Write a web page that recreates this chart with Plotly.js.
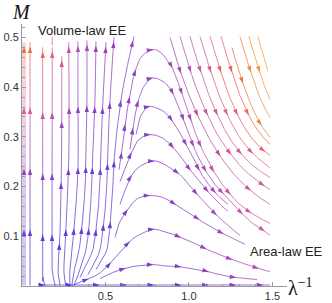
<!DOCTYPE html>
<html>
<head>
<meta charset="utf-8">
<script src="https://cdn.plot.ly/plotly-3.0.1.min.js"></script>
<style>
html,body{margin:0;padding:0;background:#ffffff;}
#chart{width:332px;height:303px;}
</style>
</head>
<body>
<div id="chart"></div>
<script>
// ---------- ticks ----------
const xTickVals = [0.5, 1.0, 1.5];
const xTickText = ['0.5', '1.0', '1.5'];
const xMinorVals = [0.1,0.2,0.3,0.4,0.6,0.7,0.8,0.9,1.1,1.2,1.3,1.4];
const yTickVals = [0.1, 0.2, 0.3, 0.4, 0.5];
const yTickText = ['0.1', '0.2', '0.3', '0.4', '0.5'];
const yMinorVals = [0.02,0.04,0.06,0.08,0.12,0.14,0.16,0.18,0.22,0.24,0.26,0.28,0.32,0.34,0.36,0.38,0.42,0.44,0.46,0.48,0.52];

// ---------- streamlines (flow direction order) ----------
// band along the M axis
const bandLineX = [0.012, 0.012];
const bandLineY = [0.001, 0.490];
const bandLevels = [0.02, 0.84];

// upward lines (bottom -> top)
const upLinesX = [
  [0.048, 0.048],
  [0.138, 0.126, 0.124, 0.124],
  [0.198, 0.183, 0.180, 0.181],
  [0.181, 0.181],
  [0.228, 0.216, 0.228, 0.237, 0.238],
  [0.263, 0.251, 0.263, 0.281, 0.280],
  [0.287, 0.287, 0.311, 0.335, 0.335, 0.335],
  [0.299, 0.311, 0.347, 0.377, 0.383, 0.389, 0.389],
  [0.311, 0.347, 0.389, 0.413, 0.425, 0.437, 0.443],
  [0.347, 0.395, 0.431, 0.461, 0.473, 0.485, 0.503],
  [0.395, 0.443, 0.473, 0.503, 0.515, 0.527, 0.551],
  [0.443, 0.485, 0.515, 0.539, 0.557, 0.593, 0.629, 0.671]
];
const upLinesY = [
  [0.001, 0.490],
  [0.001, 0.017, 0.053, 0.480],
  [0.001, 0.029, 0.073, 0.480],
  [0.484, 0.502],
  [0.001, 0.033, 0.114, 0.275, 0.462],
  [0.001, 0.033, 0.114, 0.275, 0.490],
  [0.001, 0.033, 0.114, 0.234, 0.375, 0.492],
  [0.001, 0.029, 0.084, 0.194, 0.275, 0.375, 0.494],
  [0.001, 0.033, 0.084, 0.174, 0.275, 0.375, 0.492],
  [0.017, 0.049, 0.084, 0.174, 0.275, 0.375, 0.490],
  [0.023, 0.053, 0.084, 0.174, 0.275, 0.375, 0.500],
  [0.033, 0.057, 0.084, 0.174, 0.275, 0.375, 0.440, 0.502]
];
const upLevels = [
  [0.02, 0.84], [0.03, 0.77], [0.04, 0.71], [0.82, 0.86], [0.06, 0.63],
  [0.08, 0.58], [0.10, 0.53], [0.12, 0.49], [0.14, 0.46], [0.16, 0.44],
  [0.18, 0.43], [0.20, 0.43]
];

// arcs (left -> peak -> right)
const arcLinesX = [
  [0.581,0.599,0.617,0.641,0.671,0.713,0.778,0.826,0.866,0.904,0.956,1.006,1.048,1.096,1.156,1.228,1.305,1.395,1.485],
  [0.647,0.665,0.689,0.725,0.778,0.832,0.868,0.904,0.956,1.006,1.048,1.096,1.156,1.228,1.305,1.365,1.437,1.485],
  [0.683,0.707,0.754,0.808,0.856,0.898,0.940,0.982,1.024,1.066,1.114,1.174,1.234],
  [0.587,0.623,0.659,0.695,0.754,0.814,0.862,0.910,0.958,1.006,1.060,1.114,1.174,1.234],
  [0.587,0.623,0.659,0.707,0.778,0.826,0.886,0.956,1.006,1.066,1.126,1.186,1.246,1.305],
  [0.557,0.587,0.665,0.707,0.754,0.826,0.886,0.946,1.016,1.076,1.156,1.246,1.335],
  [0.299,0.371,0.443,0.503,0.569,0.647,0.707,0.784,0.826,0.904,0.976,1.046,1.126,1.198,1.275,1.365,1.437,1.485],
  [0.467,0.557,0.647,0.707,0.796,0.862,0.940,1.006,1.102,1.180,1.281,1.407]
];
const arcLinesY = [
  [0.234,0.275,0.325,0.375,0.424,0.460,0.475,0.471,0.456,0.436,0.389,0.339,0.299,0.263,0.226,0.192,0.164,0.142,0.126],
  [0.275,0.319,0.363,0.399,0.418,0.414,0.405,0.387,0.345,0.299,0.265,0.234,0.204,0.178,0.150,0.130,0.114,0.102],
  [0.305,0.339,0.360,0.358,0.349,0.333,0.311,0.285,0.259,0.230,0.206,0.182,0.164],
  [0.210,0.242,0.271,0.293,0.304,0.302,0.293,0.277,0.257,0.234,0.212,0.190,0.168,0.150],
  [0.164,0.198,0.224,0.241,0.251,0.249,0.238,0.221,0.201,0.178,0.156,0.136,0.118,0.102],
  [0.098,0.130,0.168,0.178,0.182,0.180,0.171,0.158,0.144,0.130,0.114,0.098,0.084],
  [0.001,0.011,0.021,0.037,0.061,0.090,0.104,0.114,0.112,0.104,0.094,0.084,0.071,0.061,0.051,0.041,0.033,0.029],
  [0.015,0.029,0.038,0.041,0.043,0.040,0.039,0.035,0.030,0.023,0.017,0.013]
];
const arcLevels = [
  [0.36, 0.62], [0.34, 0.60], [0.32, 0.50], [0.31, 0.50],
  [0.30, 0.50], [0.28, 0.50], [0.18, 0.54], [0.26, 0.50]
];

// descending lines from the top edge (top -> bottom right)
const downLinesX = [
  [0.886,0.910,0.940,0.976,1.018,1.066,1.120,1.180,1.251,1.329,1.407,1.485],
  [0.946,0.970,1.000,1.036,1.078,1.126,1.180,1.246,1.323,1.407,1.485],
  [1.006,1.030,1.060,1.096,1.138,1.186,1.240,1.305,1.383,1.485],
  [1.066,1.090,1.120,1.156,1.198,1.246,1.299,1.365,1.437,1.485],
  [1.126,1.150,1.180,1.216,1.257,1.305,1.359,1.425,1.485],
  [1.192,1.216,1.246,1.281,1.323,1.371,1.425,1.485],
  [1.257,1.281,1.311,1.347,1.389,1.437,1.485],
  [1.305,1.329,1.359,1.395,1.437,1.485],
  [1.359,1.383,1.413,1.449,1.485],
  [1.413,1.437,1.461,1.473]
];
const downLinesY = [
  [0.500,0.472,0.440,0.405,0.369,0.333,0.297,0.265,0.232,0.204,0.182,0.164],
  [0.502,0.474,0.442,0.405,0.369,0.333,0.299,0.267,0.236,0.212,0.194],
  [0.502,0.474,0.442,0.405,0.369,0.333,0.299,0.269,0.242,0.218],
  [0.502,0.474,0.442,0.405,0.369,0.333,0.301,0.273,0.250,0.238],
  [0.502,0.474,0.442,0.405,0.369,0.335,0.305,0.279,0.263],
  [0.502,0.474,0.442,0.405,0.369,0.335,0.307,0.285],
  [0.480,0.452,0.420,0.385,0.351,0.321,0.299],
  [0.502,0.474,0.442,0.405,0.369,0.339],
  [0.502,0.474,0.442,0.405,0.375],
  [0.502,0.474,0.446,0.432]
];
const downLevels = [
  [0.48, 0.60], [0.53, 0.64], [0.58, 0.68], [0.64, 0.72], [0.70, 0.77],
  [0.77, 0.83], [0.84, 0.89], [0.89, 0.94], [0.93, 0.97], [0.97, 1.00]
];

// line lying on the lambda^-1 axis
const axisLineX = [0.108, 1.485];
const axisLineY = [0.002, 0.002];
const axisLevels = [0.05, 0.40];

// ---------- geometry / style ----------
const FIG_W = 332, FIG_H = 303;
const MARGIN = {l: 22, r: 45, t: 24, b: 17};
const PW = FIG_W - MARGIN.l - MARGIN.r;
const PH = FIG_H - MARGIN.t - MARGIN.b;
const X_RANGE = [0, 1.587];
const Y_RANGE = [0, 0.527];
const SX = PW / (X_RANGE[1] - X_RANGE[0]);
const SY = PH / (Y_RANGE[1] - Y_RANGE[0]);

const STOPS = [
  [0.00, [60, 58, 228]],
  [0.15, [88, 60, 218]],
  [0.30, [116, 62, 206]],
  [0.40, [140, 64, 196]],
  [0.50, [170, 72, 184]],
  [0.60, [205, 88, 160]],
  [0.70, [226, 96, 122]],
  [0.80, [236, 98, 82]],
  [0.88, [240, 128, 60]],
  [1.00, [246, 166, 58]]
];
function levelColor(v) {
  v = Math.max(0, Math.min(1, v));
  for (let i = 0; i < STOPS.length - 1; i++) {
    const a = STOPS[i], b = STOPS[i + 1];
    if (v <= b[0]) {
      const f = (v - a[0]) / (b[0] - a[0]);
      const c = a[1].map((q, k) => Math.round(q + (b[1][k] - q) * f));
      return 'rgb(' + c.join(',') + ')';
    }
  }
  return 'rgb(' + STOPS[STOPS.length - 1][1].join(',') + ')';
}

function cr(a, b, c, d, t) {
  const t2 = t * t, t3 = t2 * t;
  return 0.5 * (2 * b + (-a + c) * t + (2 * a - 5 * b + 4 * c - d) * t2 + (-a + 3 * b - 3 * c + d) * t3);
}
function densify(xs, ys) {
  const n = xs.length, out = [];
  for (let i = 0; i < n - 1; i++) {
    const i0 = Math.max(i - 1, 0), i3 = Math.min(i + 2, n - 1);
    const lenPx = Math.hypot((xs[i + 1] - xs[i]) * SX, (ys[i + 1] - ys[i]) * SY);
    const steps = Math.max(2, Math.ceil(lenPx / 1.5));
    for (let k = 0; k < steps; k++) {
      const t = k / steps;
      out.push([cr(xs[i0], xs[i], xs[i + 1], xs[i3], t), cr(ys[i0], ys[i], ys[i + 1], ys[i3], t)]);
    }
  }
  out.push([xs[n - 1], ys[n - 1]]);
  return out;
}
function cumLen(pts) {
  const s = [0];
  for (let i = 1; i < pts.length; i++) {
    s.push(s[i - 1] + Math.hypot((pts[i][0] - pts[i - 1][0]) * SX, (pts[i][1] - pts[i - 1][1]) * SY));
  }
  return s;
}

const NB = 32;
function makeBins() { return Array.from({length: NB}, () => ({x: [], y: []})); }
const lineBins = makeBins();
const bandBins = makeBins();
function addToBins(bins, pts, s, L, lv0, lv1) {
  let cur = -1;
  for (let i = 0; i < pts.length - 1; i++) {
    const lv = lv0 + (lv1 - lv0) * ((s[i] + s[i + 1]) / 2 / L);
    const b = Math.min(NB - 1, Math.max(0, Math.floor(lv * NB)));
    if (b !== cur) {
      if (cur >= 0) { bins[cur].x.push(null); bins[cur].y.push(null); }
      bins[b].x.push(pts[i][0]); bins[b].y.push(pts[i][1]);
      cur = b;
    }
    bins[b].x.push(pts[i + 1][0]); bins[b].y.push(pts[i + 1][1]);
  }
  if (cur >= 0) { bins[cur].x.push(null); bins[cur].y.push(null); }
}

const arrowX = [], arrowY = [], arrowAng = [], arrowCol = [];
function addArrow(pts, s, L, target, lv0, lv1) {
  let i = 0;
  while (i < pts.length - 2 && s[i + 1] < target) i++;
  const f = (target - s[i]) / ((s[i + 1] - s[i]) || 1);
  const x = pts[i][0] + (pts[i + 1][0] - pts[i][0]) * f;
  const y = pts[i][1] + (pts[i + 1][1] - pts[i][1]) * f;
  const a = pts[Math.max(i - 2, 0)], b = pts[Math.min(i + 3, pts.length - 1)];
  const ang = Math.atan2((b[0] - a[0]) * SX, (b[1] - a[1]) * SY) * 180 / Math.PI;
  arrowX.push(x); arrowY.push(y); arrowAng.push(ang);
  arrowCol.push(levelColor(lv0 + (lv1 - lv0) * target / L));
}

const ruleFromEnd = (off, gap) => (pts, s, L) => { const r = []; for (let t = L - off; t > 6; t -= gap) r.push(t); return r; };
const ruleFromStart = (off, gap) => (pts, s, L) => { const r = []; for (let t = off; t < L - 4; t += gap) r.push(t); return r; };
const ruleAtPeak = (gap) => (pts, s, L) => {
  let im = 0; pts.forEach((p, i) => { if (p[1] > pts[im][1]) im = i; });
  const sp = s[im], r = [];
  let t = sp - Math.floor((sp - 6) / gap) * gap;
  for (; t < L - 4; t += gap) r.push(t);
  return r;
};

function processGroup(xsArr, ysArr, lvArr, rule, bins) {
  for (let k = 0; k < xsArr.length; k++) {
    const pts = densify(xsArr[k], ysArr[k]);
    const s = cumLen(pts), L = s[s.length - 1];
    addToBins(bins, pts, s, L, lvArr[k][0], lvArr[k][1]);
    rule(pts, s, L).forEach(t => addArrow(pts, s, L, t, lvArr[k][0], lvArr[k][1]));
  }
}

processGroup([bandLineX], [bandLineY], [bandLevels], ruleFromEnd(4, 61), bandBins);
processGroup(upLinesX, upLinesY, upLevels, ruleFromEnd(4, 61), lineBins);
processGroup(arcLinesX, arcLinesY, arcLevels, ruleAtPeak(28), lineBins);
processGroup(downLinesX, downLinesY, downLevels, ruleFromStart(38, 46), lineBins);
processGroup([axisLineX], [axisLineY], [axisLevels], ruleFromStart(5, 27.3), lineBins);

const traces = [];
bandBins.forEach((b, i) => {
  if (!b.x.length) return;
  traces.push({type: 'scatter', mode: 'lines', x: b.x, y: b.y, connectgaps: false, hoverinfo: 'skip',
    line: {color: levelColor((i + 0.5) / NB), width: 4}, opacity: 0.28});
});
lineBins.forEach((b, i) => {
  if (!b.x.length) return;
  traces.push({type: 'scatter', mode: 'lines', x: b.x, y: b.y, connectgaps: false, hoverinfo: 'skip',
    line: {color: levelColor((i + 0.5) / NB), width: 1}, opacity: 0.75});
});
traces.push({type: 'scatter', mode: 'markers', x: arrowX, y: arrowY, hoverinfo: 'skip',
  marker: {symbol: 'arrow', size: 7, angle: arrowAng, color: arrowCol, line: {width: 0}}});

const tickFont = {family: 'Liberation Sans, Arial, sans-serif', size: 11, color: '#333333'};
const axisGray = '#9a9a9a';
const layout = {
  width: FIG_W, height: FIG_H,
  margin: {l: MARGIN.l, r: MARGIN.r, t: MARGIN.t, b: MARGIN.b, pad: 0},
  paper_bgcolor: '#ffffff', plot_bgcolor: '#ffffff', showlegend: false,
  xaxis: {range: X_RANGE, showgrid: false, zeroline: false, showline: true, linecolor: axisGray, linewidth: 1,
    ticks: 'inside', ticklen: 4, tickwidth: 1, tickcolor: axisGray,
    tickmode: 'array', tickvals: xTickVals, ticktext: xTickText, tickfont: tickFont,
    minor: {tickmode: 'array', tickvals: xMinorVals, ticks: 'inside', ticklen: 2.5, tickwidth: 1, tickcolor: axisGray, showgrid: false},
    fixedrange: true},
  yaxis: {range: Y_RANGE, showgrid: false, zeroline: false, showline: true, linecolor: axisGray, linewidth: 1,
    ticks: 'inside', ticklen: 4, tickwidth: 1, tickcolor: axisGray,
    tickmode: 'array', tickvals: yTickVals, ticktext: yTickText, tickfont: tickFont,
    minor: {tickmode: 'array', tickvals: yMinorVals, ticks: 'inside', ticklen: 2.5, tickwidth: 1, tickcolor: axisGray, showgrid: false},
    fixedrange: true},
  annotations: [
    {xref: 'paper', yref: 'paper', x: -0.002, y: 1.046, xanchor: 'center', yanchor: 'middle', showarrow: false,
      text: '<i>M</i>', font: {family: 'Liberation Serif, Times New Roman, serif', size: 20, color: '#111111'}},
    {xref: 'paper', yref: 'paper', x: 0.998, y: -0.004, xanchor: 'left', yanchor: 'middle', showarrow: false,
      text: 'λ<sup>−1</sup>', font: {family: 'Liberation Serif, Times New Roman, serif', size: 20, color: '#111111'}},
    {xref: 'paper', yref: 'paper', x: 0.2264, y: 0.977, xanchor: 'center', yanchor: 'middle', showarrow: false,
      text: 'Volume-law EE', font: {family: 'Liberation Sans, Arial, sans-serif', size: 13, color: '#222222'}},
    {xref: 'paper', yref: 'paper', x: 0.997, y: 0.13, xanchor: 'center', yanchor: 'middle', showarrow: false,
      text: 'Area-law EE', font: {family: 'Liberation Sans, Arial, sans-serif', size: 13, color: '#222222'}}
  ]
};

Plotly.newPlot('chart', traces, layout, {displayModeBar: false, staticPlot: true});
</script>
</body>
</html>
